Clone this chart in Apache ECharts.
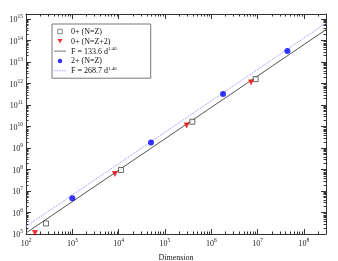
<!DOCTYPE html>
<html><head><meta charset="utf-8">
<script src="https://cdn.jsdelivr.net/npm/echarts@6/dist/echarts.min.js"></script>
<style>html,body{margin:0;padding:0;background:#fff}#c{width:338px;height:261px}</style>
</head><body><div id="c"></div>
<script>
// ---- data ----
const xMin = 100, xMax = 3e8;
const yMin = 1e5, yMax = 1.7e15;
const xTickExps = [2, 3, 4, 5, 6, 7, 8];
const yTickExps = [5, 6, 7, 8, 9, 10, 11, 12, 13, 14, 15];
const seriesNames = ['0+ (N=Z)', '0+ (N=Z+2)', 'F = 133.6 d^1.46', '2+ (N=Z)', 'F = 268.7 d^1.46'];
const zeroNZ = [[270, 3.1e5], [1.12e4, 9.5e7], [3.9e5, 1.66e10], [9.1e6, 1.6e12]];
const zeroNZ2 = [[156, 1.1e5], [8.3e3, 6.2e7], [2.95e5, 1.1e10], [7.2e6, 1.1e12]];
const twoNZ = [[1000, 4.6e6], [5.0e4, 1.8e9], [1.8e6, 3.2e11], [4.4e7, 3.2e13]];
const fitA = [[100, 1.11e5], [3e8, 3.2e14]];
const fitB = [[100, 2.24e5], [3e8, 6.4e14]];
const minorMult = [2, 3, 4, 5, 6, 7, 8, 9];

// ---- build ----
const minorX = [], minorY = [];
xTickExps.forEach(e => minorMult.forEach(m => { const v = m * Math.pow(10, e); if (v < xMax) minorX.push([v, yMin]); }));
yTickExps.forEach(e => minorMult.forEach(m => { const v = m * Math.pow(10, e); if (v < yMax) minorY.push([xMin, v]); }));

const font = 'Liberation Serif';
const isPow = v => Math.abs(Math.log10(v) - Math.round(Math.log10(v))) < 1e-6;
const powLabel = v => isPow(v) ? '{b|10}{s|' + Math.round(Math.log10(v)) + '}' : '';
const labRich = {
  b: {fontFamily: font, fontSize: 8, color: '#222', verticalAlign: 'bottom', lineHeight: 10},
  s: {fontFamily: font, fontSize: 5.5, color: '#222', verticalAlign: 'top', padding: [0, 0, 5, 0], lineHeight: 10}
};
const axisCommon = {
  type: 'log', logBase: 10,
  axisLine: {show: true, lineStyle: {color: '#333', width: 1}},
  axisTick: {show: true, inside: true, length: 5, lineStyle: {color: '#333'}},
  splitLine: {show: false}, minorTick: {show: false}
};
const chart = echarts.init(document.getElementById('c'), null, {renderer: 'canvas'});
const tickStyle = {stroke: '#333', lineWidth: 1};
function minorXRender(params, api) {
  const v = api.value(0);
  const a = api.coord([v, yMin]), b = api.coord([v, yMax]);
  const x = Math.round(a[0]) + 0.5;
  return {type: 'group', children: [
    {type: 'line', shape: {x1: x, y1: a[1], x2: x, y2: a[1] - 2.5}, style: tickStyle},
    {type: 'line', shape: {x1: x, y1: b[1], x2: x, y2: b[1] + 2.5}, style: tickStyle}
  ]};
}
function minorYRender(params, api) {
  const v = api.value(1);
  const a = api.coord([xMin, v]), b = api.coord([xMax, v]);
  const y = Math.round(a[1]) + 0.5;
  return {type: 'group', children: [
    {type: 'line', shape: {x1: a[0], y1: y, x2: a[0] + 2.5, y2: y}, style: tickStyle},
    {type: 'line', shape: {x1: b[0], y1: y, x2: b[0] - 2.5, y2: y}, style: tickStyle}
  ]};
}
const legRich = {
  n: {fontFamily: font, fontSize: 8, color: '#111', lineHeight: 9, verticalAlign: 'bottom'},
  s: {fontFamily: font, fontSize: 5, color: '#111', lineHeight: 9, verticalAlign: 'top', padding: [0, 0, 4, 0]}
};
const dashPath = 'path://M0,0h1.6v1h-1.6z M2.6,0h1.6v1h-1.6z M5.2,0h1.6v1h-1.6z M7.8,0h1.6v1h-1.6z M10.4,0h1.6v1h-1.6z';
chart.setOption({
  animation: false,
  grid: {left: 26, right: 12, top: 14, bottom: 27, containLabel: false, outerBoundsMode: 'none'},
  legend: {
    left: 52, top: 24, orient: 'vertical',
    data: [
      {name: seriesNames[0], icon: 'path://M0,0h10v10h-10z', itemStyle: {borderWidth: 0.8}},
      {name: seriesNames[1], icon: 'path://M0,0L10,0L5,9z'},
      {name: seriesNames[2], icon: 'path://M0,0h12v0.8h-12z'},
      {name: seriesNames[3], icon: 'circle'},
      {name: seriesNames[4], icon: dashPath}
    ],
    symbolKeepAspect: true,
    itemWidth: 12, itemHeight: 4.5, itemGap: 0.8, itemTextGap: 5,
    padding: [3, 34, 3, 2],
    borderColor: '#777', borderWidth: 1, borderRadius: 0, backgroundColor: '#fff',
    selectedMode: false,
    textStyle: {fontFamily: font, fontSize: 8, lineHeight: 9, color: '#111', rich: legRich},
    formatter: function (name) {
      const i = name.indexOf('^');
      if (i < 0) return '{n|' + name + '}';
      return '{n|' + name.slice(0, i) + '}{s|' + name.slice(i + 1) + '}';
    }
  },
  xAxis: [
    Object.assign({}, axisCommon, {
      min: xMin, max: xMax, position: 'bottom', splitNumber: 6,
      name: 'Dimension', nameLocation: 'middle', nameGap: 13,
      nameTextStyle: {fontFamily: font, fontSize: 8, color: '#222', verticalAlign: 'middle', lineHeight: 8},
      axisLabel: {show: true, margin: 4, formatter: powLabel, rich: labRich, showMinLabel: true, showMaxLabel: false}
    }),
    Object.assign({}, axisCommon, {min: xMin, max: xMax, position: 'top', splitNumber: 6, axisLabel: {show: false}})
  ],
  yAxis: [
    Object.assign({}, axisCommon, {
      min: yMin, max: yMax, position: 'left', interval: 1,
      name: 'Number of operations', nameLocation: 'middle', nameGap: 17, nameRotate: 90,
      nameTextStyle: {fontFamily: font, fontSize: 8, color: '#222'},
      axisLabel: {show: true, margin: 3, formatter: powLabel, rich: labRich, showMinLabel: true, showMaxLabel: false}
    }),
    Object.assign({}, axisCommon, {min: yMin, max: yMax, position: 'right', interval: 1, axisLabel: {show: false}})
  ],
  series: [
    {name: 'minorX', type: 'custom', renderItem: minorXRender, data: minorX, silent: true, clip: false, z: 1},
    {name: 'minorY', type: 'custom', renderItem: minorYRender, data: minorY, silent: true, clip: false, z: 1},
    {name: seriesNames[2], type: 'line', data: fitA, showSymbol: false, symbol: 'none', clip: true,
      lineStyle: {color: '#555', width: 1}, itemStyle: {color: '#555'}, z: 2},
    {name: seriesNames[4], type: 'line', data: fitB, showSymbol: false, symbol: 'none', clip: true,
      lineStyle: {color: '#a8a8ff', width: 1, type: [2, 1]}, itemStyle: {color: '#a8a8ff'}, z: 2},
    {name: seriesNames[0], type: 'scatter', data: zeroNZ, symbol: 'rect', symbolSize: 5,
      itemStyle: {color: '#fff', borderColor: '#444', borderWidth: 1}, z: 3},
    {name: seriesNames[1], type: 'scatter', data: zeroNZ2, symbol: 'triangle', symbolRotate: 180, symbolSize: 6,
      itemStyle: {color: '#ee0000'}, z: 3},
    {name: seriesNames[3], type: 'scatter', data: twoNZ, symbol: 'circle', symbolSize: 6,
      itemStyle: {color: '#0000ff'}, z: 3}
  ]
});
</script></body></html>
